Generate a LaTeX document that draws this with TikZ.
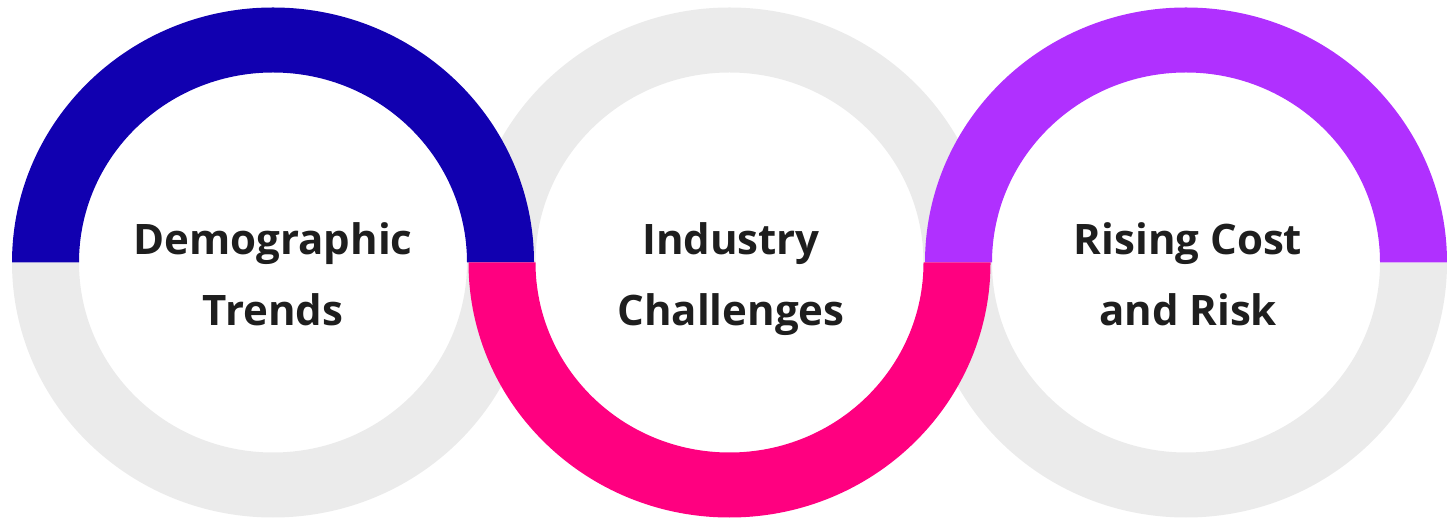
\documentclass[tikz,border=0pt]{standalone}
\usepackage{fontspec}
\setmainfont{Open Sans}
\usepackage{tikz}

\definecolor{ringgray}{HTML}{EBEBEB}
\definecolor{ringblue}{HTML}{1100B0}
\definecolor{ringpink}{HTML}{FF0080}
\definecolor{ringpurple}{HTML}{B030FF}
\definecolor{labeltext}{HTML}{1E1E1E}

\begin{document}
\begin{tikzpicture}[x=1pt,y=1pt,
        label text/.style={align=center,inner sep=0pt,anchor=north,text=labeltext,
                font={\fontsize{42}{71}\selectfont\bfseries}}]
    \useasboundingbox (0,0) rectangle (1447,519);
    % grey halves first
    \fill[ringgray] (12,256.5) arc[start angle=180,end angle=360,x radius=261pt,y radius=255pt]
        -- (467,256.5) arc[start angle=360,end angle=180,x radius=194pt,y radius=190pt] -- cycle;
    \fill[ringgray] (925,256.5) arc[start angle=180,end angle=360,x radius=261pt,y radius=255pt]
        -- (1380,256.5) arc[start angle=360,end angle=180,x radius=194pt,y radius=190pt] -- cycle;
    \fill[ringgray] (468.5,256.5) arc[start angle=180,end angle=0,x radius=261pt,y radius=255pt]
        -- (923.5,256.5) arc[start angle=0,end angle=180,x radius=194pt,y radius=190pt] -- cycle;
    % coloured halves on top
    \fill[ringblue] (12,256.5) arc[start angle=180,end angle=0,x radius=261pt,y radius=255pt]
        -- (467,256.5) arc[start angle=0,end angle=180,x radius=194pt,y radius=190pt] -- cycle;
    \fill[ringpurple] (925,256.5) arc[start angle=180,end angle=0,x radius=261pt,y radius=255pt]
        -- (1380,256.5) arc[start angle=0,end angle=180,x radius=194pt,y radius=190pt] -- cycle;
    \fill[ringpink] (468.5,256.5) arc[start angle=180,end angle=360,x radius=261pt,y radius=255pt]
        -- (923.5,256.5) arc[start angle=360,end angle=180,x radius=194pt,y radius=190pt] -- cycle;
    % labels
    \node[label text] (demo) at (273,297) {Demographic\\Trends};
    \node[label text] (industry) at (731,297) {Industry\\Challenges};
    \node[label text] (rising) at (1188,297) {Rising Cost\\and Risk};
\end{tikzpicture}
\end{document}
